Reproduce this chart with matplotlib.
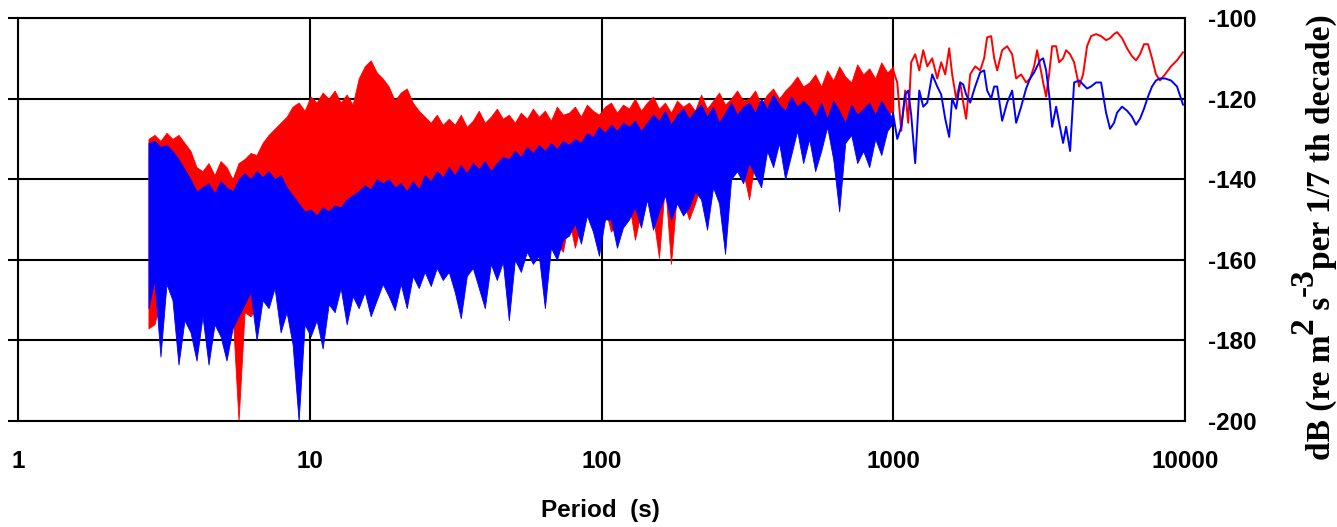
import numpy as np
import matplotlib
matplotlib.use("Agg")
import matplotlib.pyplot as plt
from matplotlib.ticker import NullLocator

plt.rcParams['font.family'] = ['Liberation Sans', 'DejaVu Sans']
plt.rcParams['font.weight'] = 'bold'
plt.rcParams['axes.unicode_minus'] = False

# dense part of the spectra (2.8 s .. 1000 s), upper and lower edge in dB
red_hi = [-130, -129, -130.5, -128.5, -130, -129, -131, -133, -137, -138,
          -136, -139, -135.5, -137, -140, -136, -135, -133.5, -134, -131,
          -129, -127.5, -126, -124.5, -122, -121, -123, -119.5, -121, -118.5,
          -120, -118, -121, -119, -121.5, -115, -112, -110.5, -113.5, -115,
          -117, -120.5, -118.5, -117.5, -121, -123, -124.5, -126, -124, -126.5,
          -125, -126.5, -124, -127, -125.5, -123, -126, -124.5, -122.5, -125,
          -124, -126, -123.5, -125, -122.5, -124.5, -123, -125.5, -122, -124,
          -123.5, -122, -124.5, -121.5, -123, -124, -122, -121, -123.5, -121.5,
          -122.5, -120, -123, -121, -119.5, -122.5, -121, -123.5, -120.5, -122,
          -121, -123, -119, -122.5, -120.5, -118.5, -121.5, -120, -118, -120.5,
          -120, -118, -121.5, -119, -117.5, -120, -118, -116.5, -114.5, -117,
          -116, -114, -117, -113, -115.5, -112, -114.5, -116, -111.5, -114,
          -112.5, -115, -111, -113.5, -112]
red_lo = [-177, -176, -170, -163, -166, -183, -171, -174, -175, -170,
          -178, -172, -175, -183, -173, -200, -173, -174, -172, -166,
          -168, -163, -170, -169, -173, -175, -172, -174, -171, -176,
          -167, -169, -163, -170, -165, -168, -164, -169, -166, -162,
          -165, -167, -162, -168, -160, -163, -159, -162, -158, -161,
          -159, -163, -166, -160, -158, -162, -165, -157, -161, -156,
          -166, -156, -159, -154, -157, -155, -164, -153, -156, -158,
          -150, -157, -151, -146, -150, -153, -147, -153, -151, -148,
          -146, -155, -148, -142, -149, -159.5, -141, -161, -143, -145,
          -150, -146, -141, -147, -138, -143, -149, -139.5, -136, -138,
          -145, -135, -139, -131, -134, -129, -136, -132, -127, -133,
          -128, -134, -130, -125, -131, -139.5, -127, -125, -132, -129,
          -132, -126, -130, -124, -123]
blue_hi = [-131, -130.5, -132, -131.5, -133, -135, -137.5, -140, -143, -142,
           -141, -143.5, -140.5, -142, -143, -140, -138.5, -140, -138, -139.5,
           -138, -140, -139, -142, -144, -146, -148, -147.5, -149, -147,
           -148, -146.5, -147, -145, -144, -143, -141.5, -142.5, -140, -141,
           -140, -142, -141, -143, -140.5, -142.5, -139, -140.5, -138, -139.5,
           -137, -139, -136.5, -138.5, -136, -137.5, -135.5, -138, -136, -134.5,
           -135, -133, -134.5, -132, -133.5, -131.5, -133, -131, -132.5, -130.5,
           -131.5, -130, -131, -128.5, -129.5, -127, -128.5, -126.5, -128, -126,
           -127, -125.5, -128, -126, -124, -125.5, -123, -126.5, -124, -122.5,
           -125, -123, -121.5, -124.5, -122, -126, -123.5, -121, -124, -122,
           -121, -123.5, -120, -122.5, -119, -121.5, -123, -119.5, -122, -120.5,
           -122, -124.5, -121, -125, -120.5, -123, -126, -121.5, -124, -122.5,
           -121, -124, -120.5, -123, -125]
blue_lo = [-172, -165, -184, -166, -170, -186, -175, -178, -185, -174,
           -186, -176, -179, -185, -177, -174, -171, -168, -180, -170,
           -172, -167, -178, -173, -181, -200, -176, -179, -175, -182,
           -171, -173, -167, -176, -169, -172, -168, -174, -170, -166,
           -169, -172.5, -166, -172, -164, -167, -163, -166.5, -162, -165,
           -163, -168, -174.5, -164, -162, -167, -172, -161, -165, -160.5,
           -175, -160, -163, -158, -161, -159, -172, -157, -160, -155,
           -154, -151, -156, -149, -153, -159, -150, -150, -157, -152,
           -150, -147, -152, -145, -152.5, -148, -144, -150, -146, -149,
           -147, -143, -145, -152.5, -142, -146, -158.5, -140, -138, -141,
           -136, -139, -142, -133, -137, -131, -140, -134, -128, -136,
           -130, -138, -133, -127, -135, -148, -131, -129, -136, -133,
           -137, -130, -134, -128, -126]

# long-period part (1000 s .. 10000 s), single traces
tail_period = [1000, 1032, 1065, 1099, 1125, 1152, 1189, 1228, 1267, 1308,
               1360, 1415, 1460, 1507, 1555, 1592, 1643, 1696, 1737, 1778,
               1835, 1909, 1986, 2049, 2098, 2166, 2218, 2271, 2362, 2457,
               2556, 2638, 2744, 2854, 2946, 3040, 3113, 3187, 3264, 3342,
               3422, 3504, 3616, 3703, 3821, 3913, 4038, 4168, 4335, 4474,
               4617, 4765, 4957, 5156, 5363, 5535, 5713, 5848, 6083, 6328,
               6582, 6793, 7011, 7236, 7468, 7708, 7955, 8211, 8541, 8955,
               9389, 9843]
red_tail = [-113, -116, -128, -118, -126, -111, -109, -113, -108, -112,
            -110, -115, -111, -114, -107.5, -114, -120, -116, -121, -125,
            -114, -112, -113, -110, -104.8, -104.5, -110, -113, -108, -107,
            -109, -115, -114, -116, -115, -112, -108, -112, -116, -119.5,
            -114, -107, -107, -111, -110, -108, -109, -111, -117, -114,
            -107, -104.5, -104, -104.5, -105.5, -105, -104, -103.5, -105, -107.5,
            -109.5, -110.5, -109, -106.5, -106.5, -110, -114, -115.5, -114, -112,
            -110.5, -108.5]
blue_tail = [-124, -130, -127, -119, -118, -124, -136, -118, -122, -121,
             -114, -117, -119, -125, -129.5, -120, -122.5, -116, -116.5, -119,
             -121, -117, -113.5, -113, -118, -120, -117, -117, -125.5, -121,
             -118, -126, -122, -117.5, -115, -113.5, -112, -110.5, -110, -113,
             -119, -127, -122, -126, -131, -127, -133, -116, -115.5, -116.5,
             -117.5, -117, -116, -116, -123.5, -127.5, -126, -123.5, -122, -123,
             -124.5, -126.5, -125, -122.5, -119.5, -117, -115.5, -115, -115, -115.5,
             -117, -121.5]

dense_period = np.geomspace(2.8, 1000, len(red_hi))

W, H = 1337, 527
fig = plt.figure(figsize=(W / 100, H / 100), dpi=100)
ax = fig.add_axes([18 / W, 1 - 421 / H, (1185 - 18) / W, (421 - 18) / H])

# red first, blue drawn over it
ax.fill_between(dense_period, red_lo, red_hi, color='#ff0000', lw=0.6)
ax.plot(tail_period, red_tail, color='#ff0000', lw=1.4)
ax.fill_between(dense_period, blue_lo, blue_hi, color='#0000ff', lw=0.6)
ax.plot(tail_period, blue_tail, color='#0000ff', lw=1.4)

ax.set_xscale('log')
ax.set_xlim(1, 10000)
ax.set_ylim(-200, -100)
ax.set_xticks([1, 10, 100, 1000, 10000])
ax.set_xticklabels(['1', '10', '100', '1000', '10000'])
ax.xaxis.set_minor_locator(NullLocator())
ax.set_yticks(range(-200, -99, 20))
ax.grid(True, color='black', lw=1.5)
ax.set_axisbelow(True)
for s in ax.spines.values():
    s.set_linewidth(1.5)
ax.tick_params(axis='x', length=0, pad=21, labelsize=17.5)
ax.tick_params(axis='y', left=True, right=False, labelleft=False, labelright=True,
               length=7.2, width=1.5, direction='out', pad=9.4, labelsize=17.5)

fig.text(600 / W, 1 - 510 / H, 'Period  (s)', ha='center', va='center',
         fontsize=17.5, fontweight='bold')

# y label on the right, built piece by piece so the exponents stay full size
renderer = fig.canvas.get_renderer()
pieces = [('dB (re m', False), ('2', True), (' s', False), ('-3', True),
          ('per 1/7 th decade)', False)]
y_disp = H - 460
for txt, raised in pieces:
    x_disp = 1313 if raised else 1330
    t = fig.text(x_disp / W, y_disp / H, txt, rotation=90, rotation_mode='anchor',
                 ha='left', va='baseline', fontsize=24, fontweight='bold',
                 family=['Liberation Serif', 'DejaVu Serif'])
    y_disp = t.get_window_extent(renderer).y1

fig.savefig('out.png', dpi=100)
